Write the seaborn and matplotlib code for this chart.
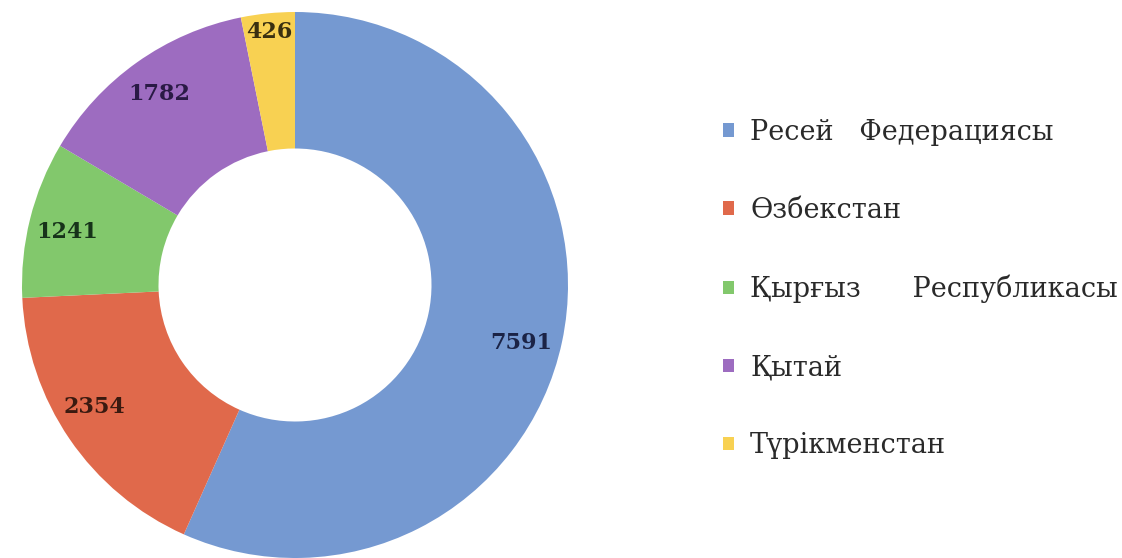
import matplotlib
matplotlib.use('Agg')
import matplotlib.pyplot as plt
import seaborn as sns
import numpy as np

# ---- data ----
categories = ['Ресей   Федерациясы', 'Өзбекстан', 'Қырғыз      Республикасы', 'Қытай', 'Түрікменстан']
values = [7591, 2354, 1241, 1782, 426]

# ---- style ----
colors = ['#7599D1', '#E0694B', '#82C86C', '#9D6CC0', '#F8D152']
label_colors = ['#1b2346', '#3a1a10', '#17331a', '#2a1a45', '#3a3010']
label_radius = [0.855, 0.86, 0.857, 0.86, 0.93]
label_angle_offset = [-2.4, -3.0, 1.0, 0.0, 0.0]

sns.set_theme(style='white')
plt.rcParams['font.family'] = ['DejaVu Serif', 'DejaVu Sans']

W, H = 1122, 558
fig = plt.figure(figsize=(W / 100, H / 100), dpi=100)
fig.patch.set_facecolor('white')

R, cx, cy = 273, 295, 285
ax = fig.add_axes([(cx - R) / W, (H - cy - R) / H, 2 * R / W, 2 * R / H])
wedges, _ = ax.pie(values, colors=colors, startangle=90, counterclock=False,
                   radius=1, wedgeprops=dict(width=0.5, linewidth=0))
ax.set_xlim(-1, 1)
ax.set_ylim(-1, 1)
ax.set_aspect('equal')
ax.axis('off')

for w, v, lc, rf, off in zip(wedges, values, label_colors, label_radius, label_angle_offset):
    ang = np.deg2rad((w.theta1 + w.theta2) / 2 + off)
    ax.text(rf * np.cos(ang), rf * np.sin(ang), f'{v}', ha='center', va='center',
            fontsize=16, fontweight='bold', color=lc, family='DejaVu Serif')

leg = fig.legend(wedges, categories, loc='center left',
                 bbox_to_anchor=(723 / W, 1 - 289 / H), frameon=False,
                 fontsize=19.5, handlelength=0.4, handleheight=0.4,
                 handletextpad=0.6, labelspacing=1.88,
                 borderaxespad=0, borderpad=0)
for t in leg.get_texts():
    t.set_color('#2a2a2a')

fig.savefig('out.png', dpi=100, facecolor='white')
